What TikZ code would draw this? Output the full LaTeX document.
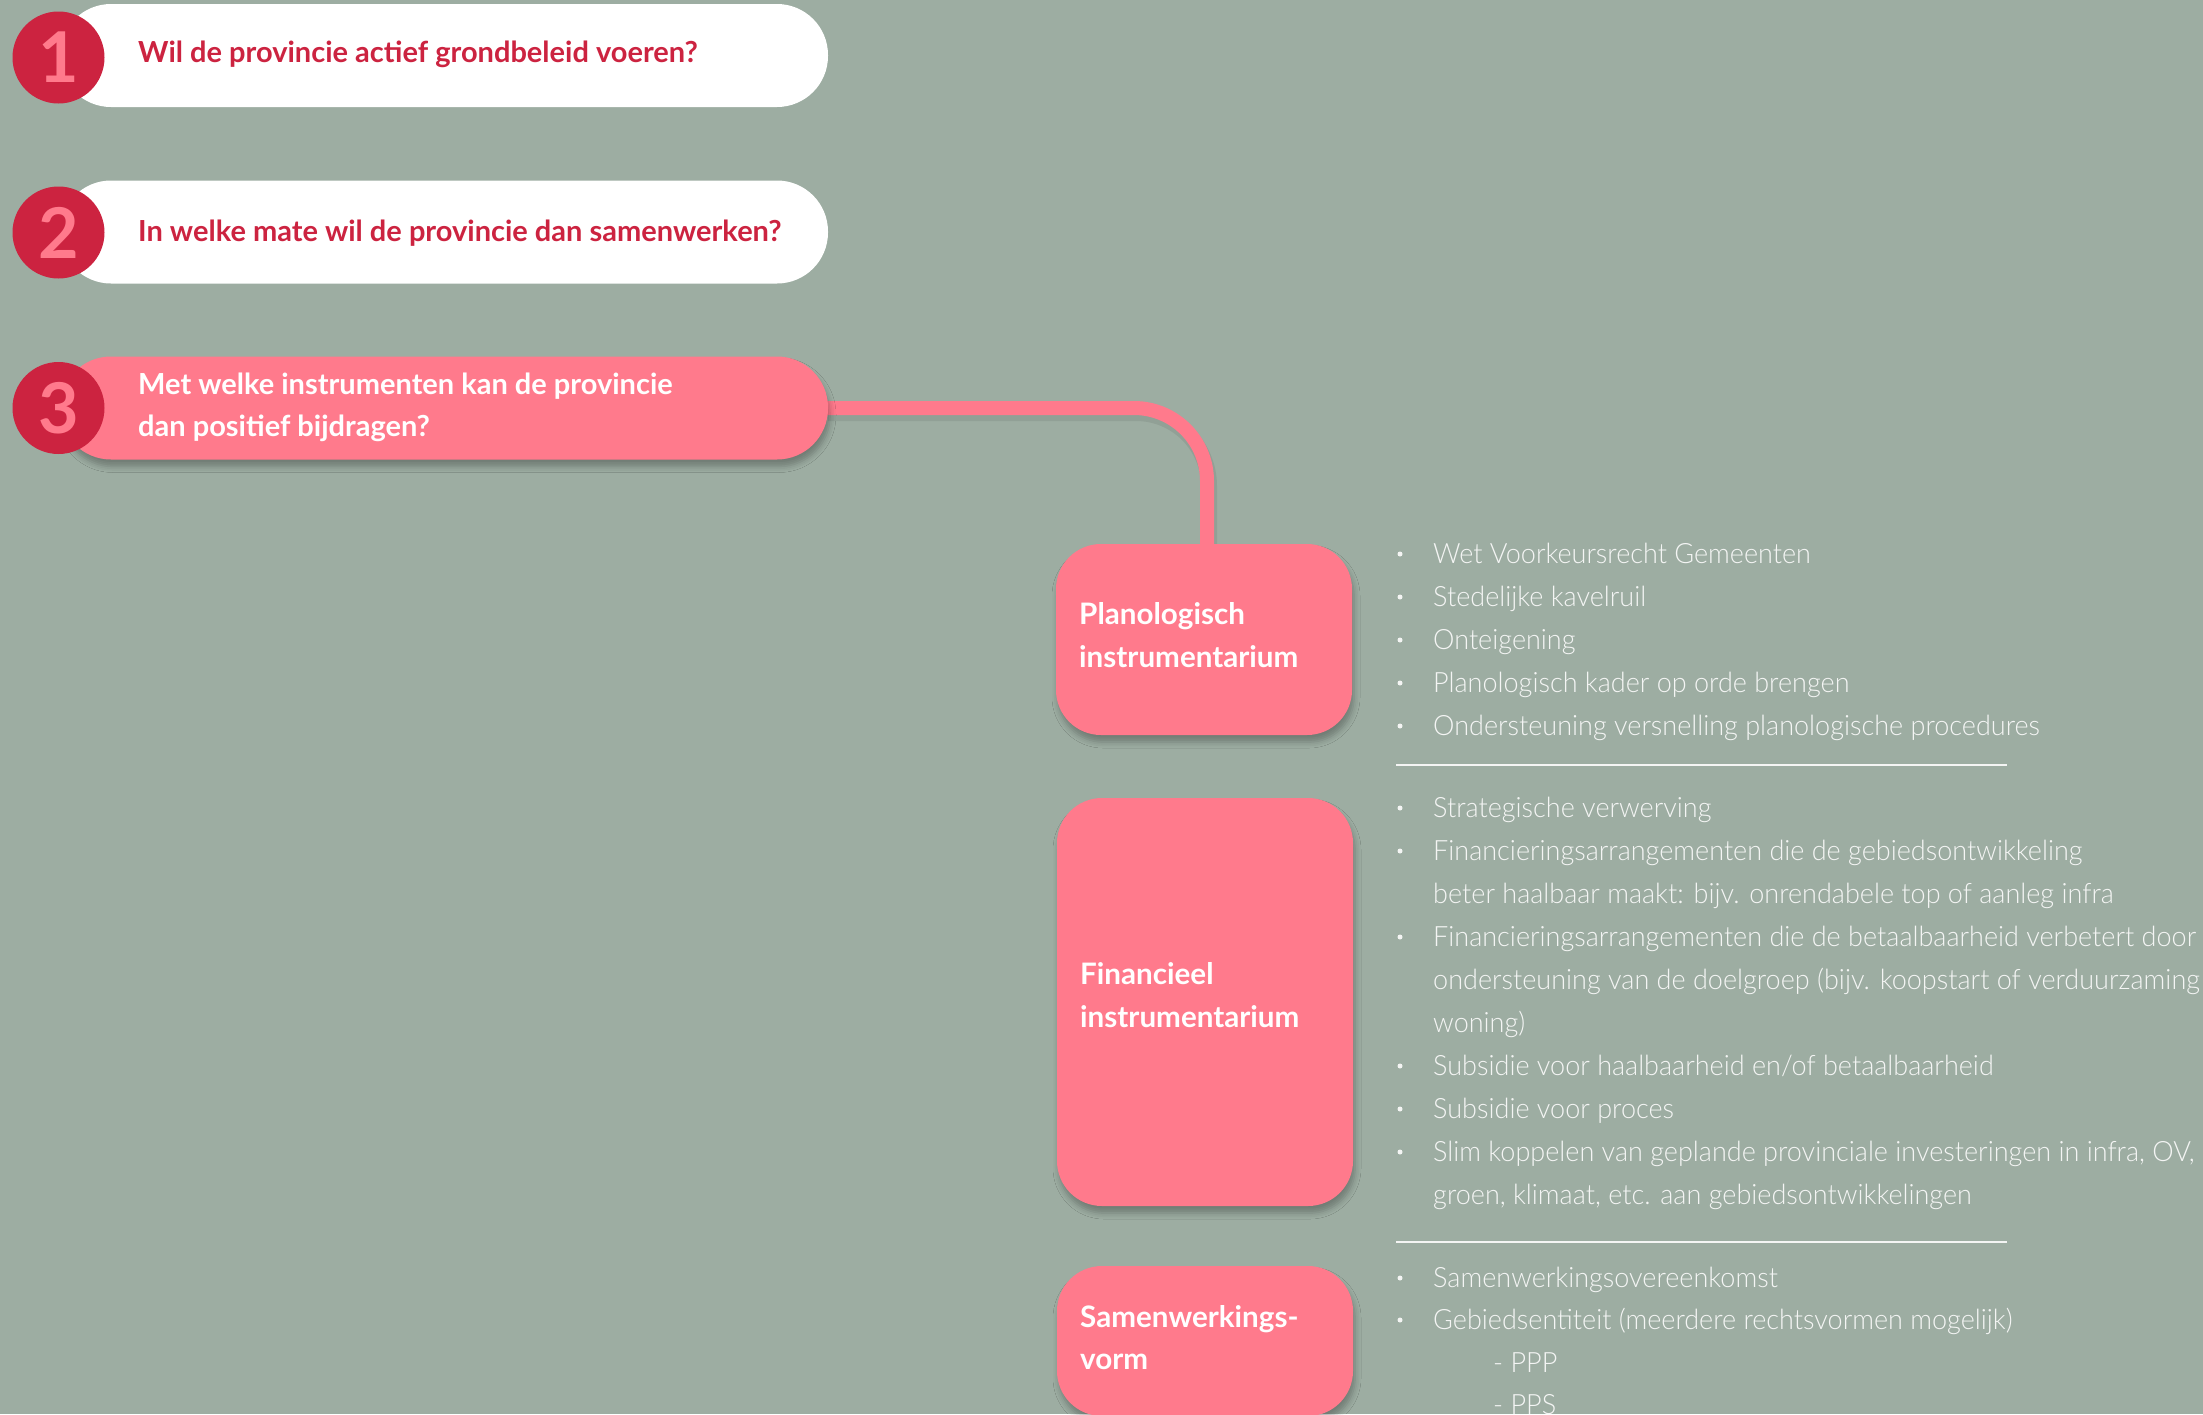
\documentclass[tikz,border=0pt]{standalone}
\usepackage{fontspec}
\setmainfont{Lato}
\newfontfamily\lightfont{Lato Light}[FakeStretch=0.965]
\usetikzlibrary{shadows.blur}

\definecolor{bg}{HTML}{9DADA2}
\definecolor{darkred}{HTML}{CC2340}
\definecolor{pinkc}{HTML}{FF7A8C}
\definecolor{listc}{HTML}{F4F5F4}

\tikzset{
  pill/.style={rectangle, rounded corners=51pt, minimum width=768pt, minimum height=103pt, inner sep=0},
  numc/.style={circle, fill=darkred, minimum size=92pt, inner sep=0, text=pinkc,
    font=\bfseries\fontsize{70}{70}\selectfont},
  soft/.style={blur shadow={shadow xshift=2pt, shadow yshift=-7pt, shadow blur radius=6pt, shadow opacity=28}},
  qtext/.style={anchor=base west, inner sep=0, font=\bfseries\fontsize{29}{34}\selectfont},
  catbox/.style={rectangle, rounded corners=45pt, fill=pinkc, minimum width=296pt, inner sep=0, soft},
  cattext/.style={anchor=base west, inner sep=0, text=white, font=\bfseries\fontsize{29.6}{34}\selectfont},
  conn/.style={draw=pinkc, line width=14pt, rounded corners=73pt},
  li/.style={anchor=base west, inner sep=0, text=listc, font=\lightfont\fontsize{28}{34}\selectfont},
  dot/.style={circle, fill=listc, minimum size=5pt, inner sep=0},
  sep/.style={draw=listc, line width=2.5pt},
}

% bulleted line: name, baseline, text
\newcommand\bl[3]{\node[dot] (#1b) at (1400,#2-9) {}; \node[li] (#1) at (1433,#2) {#3};}
% continuation line: name, baseline, text
\newcommand\cl[3]{\node[li] (#1) at (1433,#2) {#3};}

\begin{document}
\begin{tikzpicture}[x=1pt, y=-1pt]
  \useasboundingbox (0,0) rectangle (2203,1414);
  \fill[bg] (0,0) rectangle (2203,1414);

  % end points of the connector: right end of question 3, top of the first category
  \coordinate (q3end) at (826,408);
  \coordinate (plantop) at (1207,546);

  % connector, drawn first so the shapes cover its ends
  \begin{scope}[opacity=0.07, transform canvas={xshift=2pt, yshift=-5pt}]
    \draw[conn, draw=black, line width=16pt] (q3end) -| (plantop);
  \end{scope}
  \draw[conn] (q3end) -| (plantop);

  % question pills
  \node[pill, fill=white] (q1) at (444,55.5) {};
  \node[pill, fill=white] (q2) at (444,232) {};
  \node[pill, fill=pinkc, soft] (q3) at (444,408) {};

  % category boxes
  \node[catbox, minimum height=191pt] (plan) at (1204,639.5) {};
  \node[catbox, minimum height=408pt] (fin) at (1205,1002) {};
  \node[catbox, minimum height=150pt] (sam) at (1205,1341) {};

  % numbered circles
  \node[numc] (n1) at (58.5,57.5) {1};
  \node[numc] (n2) at (58.5,232.5) {2};
  \node[numc] (n3) at (58.5,408) {3};

  % question texts
  \node[qtext, text=darkred] (t1) at (138,62) {Wil de provincie actief grondbeleid voeren?};
  \node[qtext, text=darkred] (t2) at (138,241) {In welke mate wil de provincie dan samenwerken?};
  \node[qtext, text=white] (t3a) at (138,394) {Met welke instrumenten kan de provincie};
  \node[qtext, text=white] (t3b) at (138,436) {dan positief bijdragen?};

  % category labels
  \node[cattext] (pl1) at (1079,624) {Planologisch};
  \node[cattext] (pl2) at (1079,667) {instrumentarium};
  \node[cattext] (fi1) at (1080,984) {Financieel};
  \node[cattext] (fi2) at (1080,1027) {instrumentarium};
  \node[cattext] (sa1) at (1080,1327) {Samenwerkings-};
  \node[cattext] (sa2) at (1080,1369) {vorm};

  % planning instruments
  \bl{a1}{563}{Wet Voorkeursrecht Gemeenten}
  \bl{a2}{606}{Stedelijke kavelruil}
  \bl{a3}{649}{Onteigening}
  \bl{a4}{692}{Planologisch kader op orde brengen}
  \bl{a5}{735}{Ondersteuning versnelling planologische procedures}
  \draw[sep] (1396,765) -- (2007,765);

  % financial instruments
  \bl{b1}{817}{Strategische verwerving}
  \bl{b2}{860}{Financieringsarrangementen die de gebiedsontwikkeling}
  \cl{b3}{903}{beter haalbaar maakt: bijv. onrendabele top of aanleg infra}
  \bl{b4}{946}{Financieringsarrangementen die de betaalbaarheid verbetert door}
  \cl{b5}{989}{ondersteuning van de doelgroep (bijv. koopstart of verduurzaming}
  \cl{b6}{1032}{woning)}
  \bl{b7}{1075}{Subsidie voor haalbaarheid en/of betaalbaarheid}
  \bl{b8}{1118}{Subsidie voor proces}
  \bl{b9}{1161}{Slim koppelen van geplande provinciale investeringen in infra, OV,}
  \cl{b10}{1204}{groen, klimaat, etc. aan gebiedsontwikkelingen}
  \draw[sep] (1396,1242) -- (2007,1242);

  % forms of cooperation
  \bl{c1}{1287}{Samenwerkingsovereenkomst}
  \bl{c2}{1329}{Gebiedsentiteit (meerdere rechtsvormen mogelijk)}
  \node[li] (c3) at (1493,1372) {- PPP};
  \node[li] (c4) at (1493,1414) {- PPS};
\end{tikzpicture}
\end{document}
